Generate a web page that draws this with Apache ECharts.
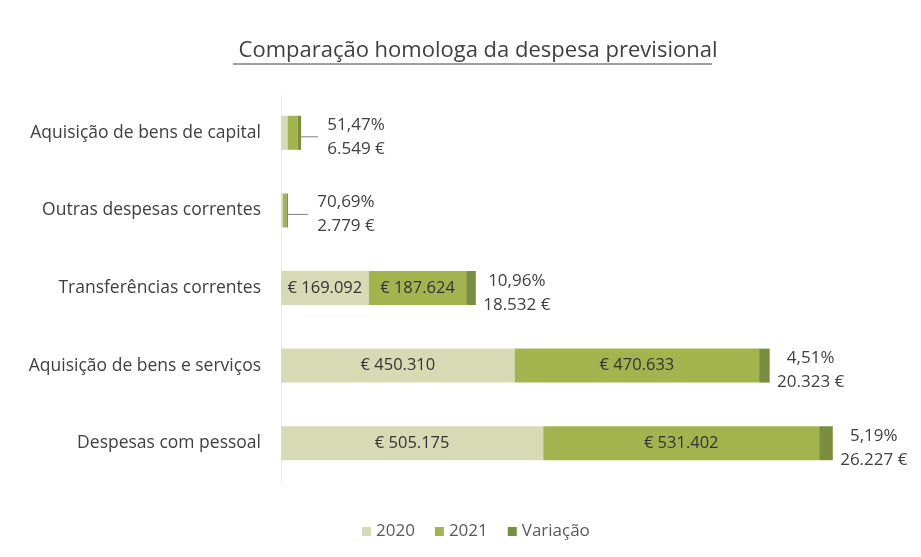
<!DOCTYPE html>
<html>
<head>
<meta charset="utf-8">
<script src="https://cdn.jsdelivr.net/npm/echarts@6/dist/echarts.min.js"></script>
<style>
  html, body { margin: 0; padding: 0; background: #fff; }
  #chart { width: 921px; height: 557px; }
</style>
</head>
<body>
<div id="chart"></div>
<script>
// categorias de baixo para cima (eixo y de categorias)
const categorias = ['Despesas com pessoal', 'Aquisição de bens e serviços', 'Transferências correntes', 'Outras despesas correntes', 'Aquisição de bens de capital'];
const valores2020 = [505175, 450310, 169092, 3931, 12724];
const valores2021 = [531402, 470633, 187624, 6710, 19273];
const variacao = [26227, 20323, 18532, 2779, 6549];
const variacaoPct = ['5,19%', '4,51%', '10,96%', '70,69%', '51,47%'];

const FONT = 'Open Sans';
const cores = ['#d7dbb5', '#a3b44f', '#7b8d3f'];

function fmt(v) {
  return String(v).replace(/\B(?=(\d{3})+(?!\d))/g, '.');
}

const chart = echarts.init(document.getElementById('chart'));

const labelInterno = {
  show: true,
  position: 'inside',
  color: '#333333',
  fontFamily: FONT,
  fontSize: 16.5,
  formatter: function (p) {
    return p.value > 100000 ? '€ ' + fmt(p.value) : '';
  }
};

const option = {
  backgroundColor: '#ffffff',
  animation: false,
  title: {
    text: 'Comparação homologa da despesa previsional',
    left: 473,
    textAlign: 'center',
    top: 35,
    textStyle: { color: '#404040', fontFamily: FONT, fontSize: 22, fontWeight: 'normal' }
  },
  graphic: [{
    type: 'line',
    shape: { x1: 233, y1: 64, x2: 712, y2: 64 },
    style: { stroke: '#404040', lineWidth: 1 }
  }],
  legend: {
    bottom: 12,
    left: 357,
    icon: 'rect',
    itemWidth: 9,
    itemHeight: 9,
    itemGap: 20,
    textStyle: { color: '#595959', fontFamily: FONT, fontSize: 17 },
    data: ['2020', '2021', 'Variação']
  },
  grid: { left: 281, right: 17, top: 94, height: 388, containLabel: false },
  xAxis: {
    type: 'value',
    min: 0,
    max: 1200000,
    show: false
  },
  yAxis: {
    type: 'category',
    data: categorias,
    axisLine: { show: true, lineStyle: { color: '#e6e6e6', type: 'dotted' } },
    axisTick: { show: false },
    axisLabel: { color: '#404040', fontFamily: FONT, fontSize: 17.5, margin: 20 }
  },
  series: [
    {
      name: '2020', type: 'bar', stack: 'total', barWidth: 34,
      itemStyle: { color: cores[0] },
      label: labelInterno,
      data: valores2020
    },
    {
      name: '2021', type: 'bar', stack: 'total', barWidth: 34,
      itemStyle: { color: cores[1] },
      label: labelInterno,
      data: valores2021
    },
    {
      name: 'Variação', type: 'bar', stack: 'total', barWidth: 34,
      itemStyle: { color: cores[2] },
      label: {
        show: true,
        position: 'right',
        distance: 3,
        formatter: function (p) {
          return '{a|' + variacaoPct[p.dataIndex] + '}\n{a|' + fmt(p.value) + ' €}';
        },
        rich: {
          a: { width: 76, align: 'center', color: '#404040', fontFamily: FONT, fontSize: 17, lineHeight: 24 }
        }
      },
      labelLine: { show: false, lineStyle: { color: '#7f7f7f', width: 1 } },
      labelLayout: function (p) {
        if (p.dataIndex === 4) return { dx: 14, dy: 4 };
        if (p.dataIndex === 3) return { dx: 17, dy: 4 };
        return { dy: 5 };
      },
      data: variacao.map(function (v, i) {
        return i >= 3 ? { value: v, labelLine: { show: true } } : v;
      })
    }
  ]
};

chart.setOption(option);
</script>
</body>
</html>
